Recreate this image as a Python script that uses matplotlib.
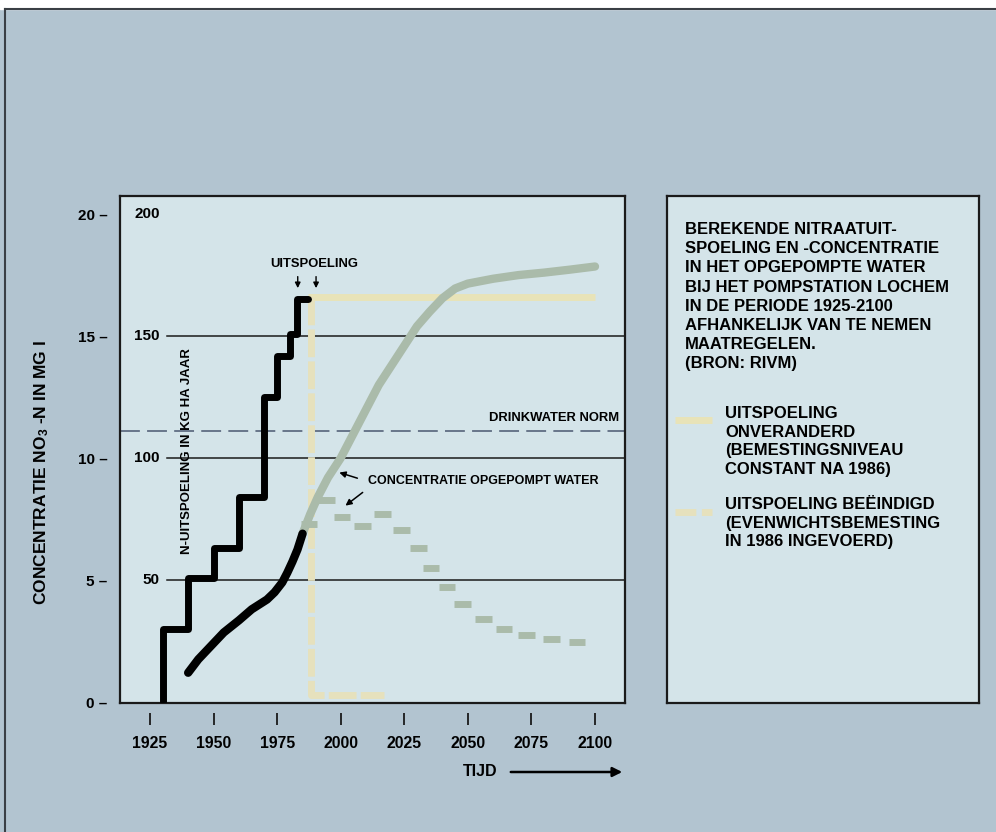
import numpy as np
import matplotlib
matplotlib.use("Agg")
import matplotlib.pyplot as plt
from matplotlib.lines import Line2D
from matplotlib.patches import Rectangle
import matplotlib.transforms as mtransforms

plt.rcParams["font.family"] = ["Liberation Sans", "DejaVu Sans"]
plt.rcParams["font.weight"] = "bold"
plt.rcParams["mathtext.default"] = "regular"

W, H = 996, 832
BG = "#b2c4d0"
PANEL = "#d4e4e9"
YELLOW = "#e8e3b8"
YELLOW_D = "#e6e1bd"
GREY = "#aabbaa"

# N-uitspoeling (kg N per ha per jaar), trapjeslijn
leach_years = [1930, 1930, 1940, 1950, 1960, 1970, 1975, 1980, 1983, 1987]
leach_kg = [0, 30, 51, 63, 84, 125, 142, 151, 165, 165]

# scenario's uitspoeling (kg/ha)
unchanged_years = [1987, 2100]
unchanged_kg = [166, 166]
stopped_years = [1988.5, 1988.5, 2017]
stopped_kg = [166, 3, 3]

# gemeten concentratie (mg/l)
meas_years = [1940, 1944, 1949, 1954, 1960, 1965, 1971, 1974, 1977, 1979, 1981, 1983, 1985]
meas_conc = [1.2, 1.75, 2.3, 2.85, 3.35, 3.8, 4.2, 4.5, 4.9, 5.3, 5.75, 6.25, 6.9]

# berekende concentratie, uitspoeling onveranderd
calc_years = [1985, 1988, 1991, 1995, 2000, 2005, 2010, 2015, 2020, 2025,
              2030, 2035, 2040, 2045, 2050, 2060, 2070, 2080, 2090, 2100]
calc_conc = [6.9, 7.7, 8.4, 9.2, 10.0, 11.0, 12.0, 13.0, 13.8, 14.6,
             15.4, 16.0, 16.55, 16.95, 17.15, 17.35, 17.5, 17.6, 17.72, 17.85]

# berekende concentratie, uitspoeling beeindigd
stop_years = [1987.5, 1994.5, 2000.5, 2008.5, 2016.5, 2024, 2030.7, 2035.5,
              2041.8, 2048, 2056, 2064.2, 2073, 2083, 2092.9]
stop_conc = [7.3, 8.3, 7.6, 7.2, 7.7, 7.05, 6.3, 5.5, 4.7, 4.0, 3.4, 3.0, 2.75, 2.6, 2.45]

norm_conc = 11.1
conc_ticks = [0, 5, 10, 15, 20]
kg_labels = [50, 100, 150, 200]
kg_lines = [50, 100, 150]
year_ticks = [1925, 1950, 1975, 2000, 2025, 2050, 2075, 2100]
KG_PER_MG = 10.0


def fx(px):
    return px / W


def fy(py):
    return 1 - py / H


def main():
    fig = plt.figure(figsize=(W / 100, H / 100), dpi=100, facecolor=BG)

    # scan edge: white strip on top and dark frame line
    fig.patches.append(Rectangle((0, fy(9)), 1, 9 / H, transform=fig.transFigure,
                                 color="white", zorder=0))
    fig.lines.append(Line2D([fx(5), 1], [fy(9), fy(9)], transform=fig.transFigure,
                            color="#3a3f45", lw=1.5))
    fig.lines.append(Line2D([fx(5), fx(5)], [0, fy(9)], transform=fig.transFigure,
                            color="#3a3f45", lw=1.5))

    ax = fig.add_axes([fx(120), fy(703), 505 / W, 507 / H], facecolor=PANEL)
    ax.set_xlim(1913.2, 2111.8)
    ax.set_ylim(-0.04, 20.74)
    for s in ax.spines.values():
        s.set_linewidth(1.6)
        s.set_color("#1a1a1a")

    ax.set_yticks(conc_ticks)
    ax.set_yticklabels([f"{v} \u2013" for v in conc_ticks], fontsize=11)
    ax.tick_params(axis="y", length=0, pad=9)
    ax.set_xticks(year_ticks)
    ax.set_xticklabels([str(y) for y in year_ticks], fontsize=11.3)
    ax.tick_params(axis="x", length=0, pad=24)
    xt = mtransforms.blended_transform_factory(ax.transData, ax.transAxes)
    ax.vlines(year_ticks, -0.043, -0.02, transform=xt, color="#1a1a1a", lw=1.3,
              clip_on=False)

    # inner kg/ha scale
    yt = mtransforms.blended_transform_factory(ax.transAxes, ax.transData)
    for v in kg_labels:
        ax.text(0.079, v / KG_PER_MG, str(v), transform=yt, ha="right", va="center",
                fontsize=11)
    for v in kg_lines:
        ax.axhline(v / KG_PER_MG, xmin=0.093, color="#1a1a1a", lw=1.1, zorder=1)

    ax.axhline(norm_conc, color="#5f6d82", lw=1.3, dashes=(11, 4), zorder=1)
    ax.text(2109.5, norm_conc + 0.55, "DRINKWATER NORM", ha="right", va="center",
            fontsize=9.4)

    # scenario lines
    ax.plot(unchanged_years, np.array(unchanged_kg) / KG_PER_MG, color=YELLOW, lw=5,
            solid_capstyle="butt", zorder=2)
    ax.plot(stopped_years, np.array(stopped_kg) / KG_PER_MG, color=YELLOW_D, lw=5,
            dashes=(4, 0.6), zorder=2)

    ax.plot(calc_years, calc_conc, color=GREY, lw=6, solid_capstyle="round", zorder=3)
    sy = np.array(stop_years)
    ax.hlines(stop_conc, sy - 3.3, sy + 3.3, color=GREY, lw=5, zorder=3)

    ax.plot(meas_years, meas_conc, color="black", lw=6, solid_capstyle="round", zorder=5)
    ax.plot(leach_years, np.array(leach_kg) / KG_PER_MG, color="black", lw=5,
            drawstyle="steps-post", solid_capstyle="round", zorder=5)

    # annotations
    ax.text(1989.5, 17.95, "UITSPOELING", ha="center", va="center", fontsize=9.4)
    for yr in (1983.1, 1990.3):
        ax.annotate("", xy=(yr, 16.85), xytext=(yr, 17.55),
                    arrowprops=dict(arrowstyle="-|>", color="black", lw=1,
                                    mutation_scale=8))
    ax.text(2010.7, 9.06, "CONCENTRATIE OPGEPOMPT WATER", ha="left", va="center",
            fontsize=9)
    ax.annotate("", xy=(1998.4, 9.44), xytext=(2007.6, 9.14),
                arrowprops=dict(arrowstyle="-|>", color="black", lw=1.1, mutation_scale=9))
    ax.annotate("", xy=(2001.0, 7.98), xytext=(2009.5, 8.66),
                arrowprops=dict(arrowstyle="-|>", color="black", lw=1.1, mutation_scale=9))

    fig.text(fx(42), fy(473), "CONCENTRATIE NO$_3$ -N IN MG l", rotation=90,
             ha="center", va="center", fontsize=12.5)
    fig.text(fx(187), fy(451), "N-UITSPOELING IN KG HA JAAR", rotation=90,
             ha="center", va="center", fontsize=9.5)

    fig.text(fx(463), fy(772), "TIJD", ha="left", va="center", fontsize=11.5)
    ax.annotate("", xy=(fx(625), fy(772)), xytext=(fx(508), fy(772)),
                xycoords="figure fraction", textcoords="figure fraction",
                arrowprops=dict(arrowstyle="-|>", color="black", lw=1.8,
                                mutation_scale=14))

    # legend panel
    lax = fig.add_axes([fx(667), fy(703), 312 / W, 507 / H], facecolor=PANEL)
    lax.set_xlim(667, 979)
    lax.set_ylim(703, 196)
    lax.set_xticks([])
    lax.set_yticks([])
    for s in lax.spines.values():
        s.set_linewidth(1.6)
        s.set_color("#1a1a1a")

    title = ("BEREKENDE NITRAATUIT-\nSPOELING EN -CONCENTRATIE\nIN HET OPGEPOMPTE WATER\n"
             "BIJ HET POMPSTATION LOCHEM\nIN DE PERIODE 1925-2100\n"
             "AFHANKELIJK VAN TE NEMEN\nMAATREGELEN.\n(BRON: RIVM)")
    lax.text(685, 222, title, ha="left", va="top", fontsize=12, linespacing=1.35)

    lax.plot([675, 712], [420, 420], color=YELLOW, lw=5, solid_capstyle="butt")
    lax.text(725, 406, "UITSPOELING\nONVERANDERD\n(BEMESTINGSNIVEAU\nCONSTANT NA 1986)",
             ha="left", va="top", fontsize=12, linespacing=1.3)
    lax.plot([675, 712], [512, 512], color=YELLOW_D, lw=5, dashes=(3, 0.8))
    lax.text(725, 497, "UITSPOELING BE\u00cbINDIGD\n(EVENWICHTSBEMESTING\nIN 1986 INGEVOERD)",
             ha="left", va="top", fontsize=12, linespacing=1.3)

    fig.savefig("out.png", dpi=100, facecolor=BG)


if __name__ == "__main__":
    main()
